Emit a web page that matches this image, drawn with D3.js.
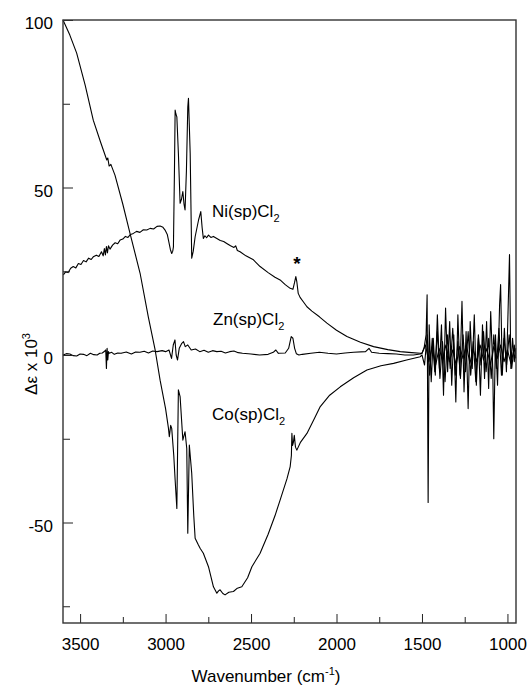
<!DOCTYPE html>
<html>
<head>
<meta charset="utf-8">
<script src="https://cdn.jsdelivr.net/npm/d3@7"></script>
<style>
  body { margin: 0; background: #fff; }
  text { font-family: "Liberation Sans", Arial, sans-serif; fill: #000; }
</style>
</head>
<body>
<div id="chart"></div>
<script>
// wavenumber (cm-1), delta epsilon x 10^3
const coSpectrum = [
  [3600, 100], [3560, 95.5], [3520, 90.1], [3470, 80.5], [3423, 70.1], [3380, 63.5], [3344, 58.2],
  [3338, 58.8], [3330, 56.4], [3320, 56.9], [3296, 53.7], [3250, 45], [3208, 36.3], [3149, 24.4],
  [3101, 11.4], [3061, 1.5], [3032, -7.5], [3000, -16], [2983, -21.9], [2978, -24.4], [2970, -21],
  [2964, -21.9], [2952, -30], [2944, -37.3], [2934, -45.8], [2925, -10.4], [2915, -12.4], [2899, -25.4],
  [2886, -22.9], [2876, -27.9], [2870, -53.2], [2861, -26.9], [2847, -35.3], [2835, -48], [2827, -54.7],
  [2810, -56.5], [2798, -57.7], [2779, -59.2], [2749, -63.2], [2720, -69.2], [2700, -71.1], [2690, -70.4],
  [2681, -70.1], [2665, -71.2], [2652, -71.6], [2630, -70.8], [2603, -70.6], [2580, -69.6], [2554, -69.2],
  [2520, -66.5], [2495, -63.2], [2447, -59.2], [2400, -53.5], [2360, -48], [2330, -43.3], [2290, -37],
  [2271, -33.3], [2264, -30], [2261, -23.4], [2257, -27], [2252, -26], [2247, -24], [2240, -27.5],
  [2232, -28.4], [2210, -26], [2173, -23.4], [2130, -19], [2095, -15.4], [2040, -12], [1978, -9.5],
  [1900, -6.8], [1822, -4.5], [1740, -3.2], [1666, -2.5], [1590, -1.5], [1510, -0.5],
  [1500, 0], [1485, -3], [1470, 6], [1455, -6], [1440, 5], [1425, -5], [1410, 7], [1395, -7],
  [1380, 4], [1365, -8], [1350, 6], [1335, -4], [1320, 8], [1305, -6], [1290, 4], [1275, -7],
  [1260, 6], [1245, -5], [1230, 7], [1215, -6], [1200, 4], [1185, -8], [1170, 6], [1155, -3],
  [1140, 7], [1125, -5], [1110, 5], [1095, -7], [1080, 6], [1065, -4], [1050, 8], [1035, -6],
  [1020, 5], [1005, -3], [990, 6], [975, -4], [960, 3], [952, -1]
];

const niSpectrum = [
  [3598, 23.9], [3585, 24.8], [3570, 24.6], [3555, 25.9], [3540, 26.4], [3525, 26], [3510, 27.3],
  [3495, 27], [3480, 28.2], [3465, 27.8], [3450, 28.9], [3435, 28.5], [3423, 29.3], [3405, 29.8],
  [3390, 29.4], [3375, 30.8], [3365, 29.6], [3358, 31.8], [3352, 29.9], [3346, 32.4], [3340, 30.5],
  [3334, 32.6], [3325, 31.6], [3310, 32.8], [3295, 33.5], [3280, 33.2], [3266, 34.3], [3250, 34.6],
  [3235, 35.4], [3220, 35.1], [3205, 36], [3188, 36.3], [3170, 36.9], [3150, 36.6], [3130, 37.4],
  [3110, 37.3], [3090, 37.8], [3070, 37.6], [3050, 38.4], [3032, 38.5], [3015, 38.1], [3003, 37.3],
  [2990, 36], [2983, 34.3], [2972, 31.5], [2964, 30.3], [2958, 31], [2954, 32.3], [2948, 55],
  [2944, 73.1], [2940, 72], [2934, 71.1], [2925, 60.2], [2915, 45.3], [2907, 46.5], [2899, 48.8],
  [2892, 45], [2886, 43.3], [2878, 55], [2870, 74], [2866, 76.6], [2856, 60.2], [2847, 28.9],
  [2838, 31], [2827, 35.3], [2807, 40.3], [2794, 42.8], [2786, 38], [2779, 34.8], [2770, 35.6],
  [2760, 35], [2749, 35.8], [2735, 35.1], [2720, 35.4], [2700, 34.8], [2680, 34.2], [2660, 33.9],
  [2642, 33.3], [2620, 32.6], [2600, 32.1], [2590, 32.6], [2580, 31.2], [2564, 30.8], [2530, 29.6],
  [2486, 28.4], [2447, 26.4], [2400, 24.6], [2360, 23.2], [2330, 22.4], [2300, 21], [2271, 19.9],
  [2255, 19.6], [2246, 21.5], [2238, 23.4], [2232, 21.8], [2224, 18.4], [2213, 17.2], [2190, 15.6],
  [2173, 14.4], [2144, 13.1], [2100, 11.4], [2056, 9.5], [2000, 7.4], [1939, 5.5], [1860, 3.8],
  [1783, 2.5], [1700, 1.6], [1627, 1], [1560, 0.7], [1510, 0.5],
  [1500, 0.5], [1488, 2], [1476, 6], [1470, 18], [1464, -44], [1458, 9], [1446, -8], [1434, 5],
  [1422, -6], [1410, 12], [1398, -4], [1386, 9], [1374, -12], [1362, 14], [1350, -5], [1338, 10],
  [1326, -9], [1314, 6], [1302, -14], [1290, 12], [1278, -6], [1266, 16], [1254, -11], [1242, 7],
  [1230, -16], [1218, 10], [1206, -4], [1194, 12], [1182, -9], [1170, 5], [1158, -12], [1146, 9],
  [1134, -7], [1122, 10], [1110, -10], [1098, 13], [1086, -4], [1080, -25], [1070, 6], [1058, -9],
  [1046, 15], [1040, 21], [1030, -6], [1018, 8], [1006, -5], [998, 10], [988, 30], [980, -4],
  [970, 5], [960, -2], [952, 2]
];

const znSpectrum = [
  [3600, 0], [3580, 0.4], [3560, 0.3], [3540, -0.2], [3520, -0.3], [3500, 0.3], [3480, 0.2],
  [3460, -0.2], [3440, 0.5], [3420, 0.1], [3400, 0], [3385, 0.5], [3370, 0.6], [3355, 1.2],
  [3350, 1.5], [3346, -4], [3342, 2], [3338, -1.5], [3334, 1], [3330, 0.5], [3315, 0.8],
  [3300, 0.2], [3280, 0.6], [3260, 0.5], [3230, 0.9], [3200, 0.3], [3175, 0.9], [3150, 0.8],
  [3125, 1.1], [3100, 0.6], [3075, 1.2], [3050, 1], [3020, 1.3], [3000, 1], [2980, 1.5],
  [2965, -1], [2955, 3], [2945, 4.5], [2938, 0], [2930, -1.5], [2920, 2], [2905, 3.5], [2895, 4],
  [2885, 2.5], [2870, 3], [2850, 1.5], [2825, 1.8], [2800, 1], [2775, 1.4], [2750, 0.8],
  [2725, 1.3], [2700, 1], [2675, 1.1], [2650, 0.6], [2625, 1], [2600, 1.2], [2575, 0.7],
  [2550, 0.5], [2500, 0.3], [2450, 0], [2400, 0.2], [2370, 0.8], [2355, 1.5], [2340, 0.5],
  [2300, 0.6], [2280, 2], [2265, 5.5], [2255, 5], [2245, 2], [2235, 0.4], [2220, 0], [2200, 0.2],
  [2150, 0.5], [2100, 0.8], [2050, 0.5], [2000, 0.3], [1950, 0.6], [1900, 0.8], [1830, 1],
  [1810, 2], [1795, 0.8], [1750, 0.5], [1700, 0.4], [1650, 0.3], [1600, 0], [1550, 0], [1510, 0.3],
  [1500, 0.5], [1480, 3], [1460, -2], [1440, 2.5], [1420, -3], [1400, 2], [1380, -1.5], [1360, 3],
  [1340, -2], [1320, 1.5], [1300, -3], [1280, 2.5], [1260, -1], [1240, 3], [1220, -2.5], [1200, 1.5],
  [1180, -2], [1160, 3], [1140, -1.5], [1120, 2], [1100, -3], [1080, 2.5], [1060, -1], [1040, 3],
  [1020, -2], [1000, 1.5], [980, -2.5], [960, 2], [952, 0.5]
];

const xTicks = [3500, 3000, 2500, 2000, 1500, 1000];
const xMinorTicks = [3250, 2750, 2250, 1750, 1250];
const yTicks = [-50, 0, 50, 100];
const yMinorTicks = [-75, -25, 25, 75];

const labels = [
  { name: "Ni(sp)Cl", x: 212, y: 217 },
  { name: "Zn(sp)Cl", x: 213, y: 325 },
  { name: "Co(sp)Cl", x: 212, y: 420 }
];

const svgW = 529, svgH = 686;
const margin = { top: 20, right: 13, bottom: 63, left: 63 };
const width = svgW - margin.left - margin.right;
const height = svgH - margin.top - margin.bottom;

const svg = d3.select("#chart")
  .append("svg")
  .attr("width", svgW)
  .attr("height", svgH)
  .append("g")
  .attr("transform", `translate(${margin.left},${margin.top})`);

const x = d3.scaleLinear().domain([3600, 950]).range([0, width]);
const y = d3.scaleLinear().domain([-80, 100]).range([height, 0]);

const line = d3.line()
  .x(d => x(d[0]))
  .y(d => y(d[1]));

[coSpectrum, znSpectrum, niSpectrum].forEach(s => {
  svg.append("path")
    .datum(s)
    .attr("d", line)
    .attr("fill", "none")
    .attr("stroke", "#000")
    .attr("stroke-width", 1.1)
    .attr("stroke-linejoin", "round");
});

// axes, ticks pointing inside
const xAxis = svg.append("g")
  .attr("transform", `translate(0,${height})`)
  .call(d3.axisBottom(x).tickValues(xTicks).tickSize(-9).tickPadding(15).tickFormat(d => String(d)));
svg.append("g")
  .attr("transform", `translate(0,${height})`)
  .call(d3.axisBottom(x).tickValues(xMinorTicks).tickSize(-6).tickFormat(""));

const yAxis = svg.append("g")
  .call(d3.axisLeft(y).tickValues(yTicks).tickSize(-10).tickPadding(10).tickFormat(d => String(d)));
svg.append("g")
  .call(d3.axisLeft(y).tickValues(yMinorTicks).tickSize(-7).tickFormat(""));

svg.selectAll(".domain").remove();
svg.selectAll(".tick line").attr("stroke", "#222").attr("stroke-width", 1);
xAxis.selectAll("text").style("font-size", "17px");
yAxis.selectAll("text").style("font-size", "17px").attr("dy", "0.5em");

svg.append("rect")
  .attr("width", width)
  .attr("height", height)
  .attr("fill", "none")
  .attr("stroke", "#333")
  .attr("stroke-width", 1.4);

// curve labels
labels.forEach(l => {
  const t = svg.append("text")
    .attr("x", l.x - margin.left)
    .attr("y", l.y - margin.top)
    .style("font-size", "17px");
  t.append("tspan").text(l.name);
  t.append("tspan").attr("dy", 5).style("font-size", "11px").text("2");
});

svg.append("text")
  .attr("x", 297 - margin.left)
  .attr("y", 270 - margin.top)
  .attr("text-anchor", "middle")
  .style("font-size", "19px")
  .style("font-weight", "bold")
  .text("*");

// axis titles
const xt = svg.append("text")
  .attr("x", 266 - margin.left)
  .attr("y", 682 - margin.top)
  .attr("text-anchor", "middle")
  .style("font-size", "17px");
xt.append("tspan").text("Wavenumber (cm");
xt.append("tspan").attr("dy", -7).style("font-size", "11px").text("-1");
xt.append("tspan").attr("dy", 7).text(")");

const yt = svg.append("text")
  .attr("transform", `translate(${37 - margin.left},${364 - margin.top}) rotate(-90)`)
  .attr("text-anchor", "middle")
  .style("font-size", "17px");
yt.append("tspan").text("Δε x 10");
yt.append("tspan").attr("dy", -7).style("font-size", "11px").text("3");
</script>
</body>
</html>
